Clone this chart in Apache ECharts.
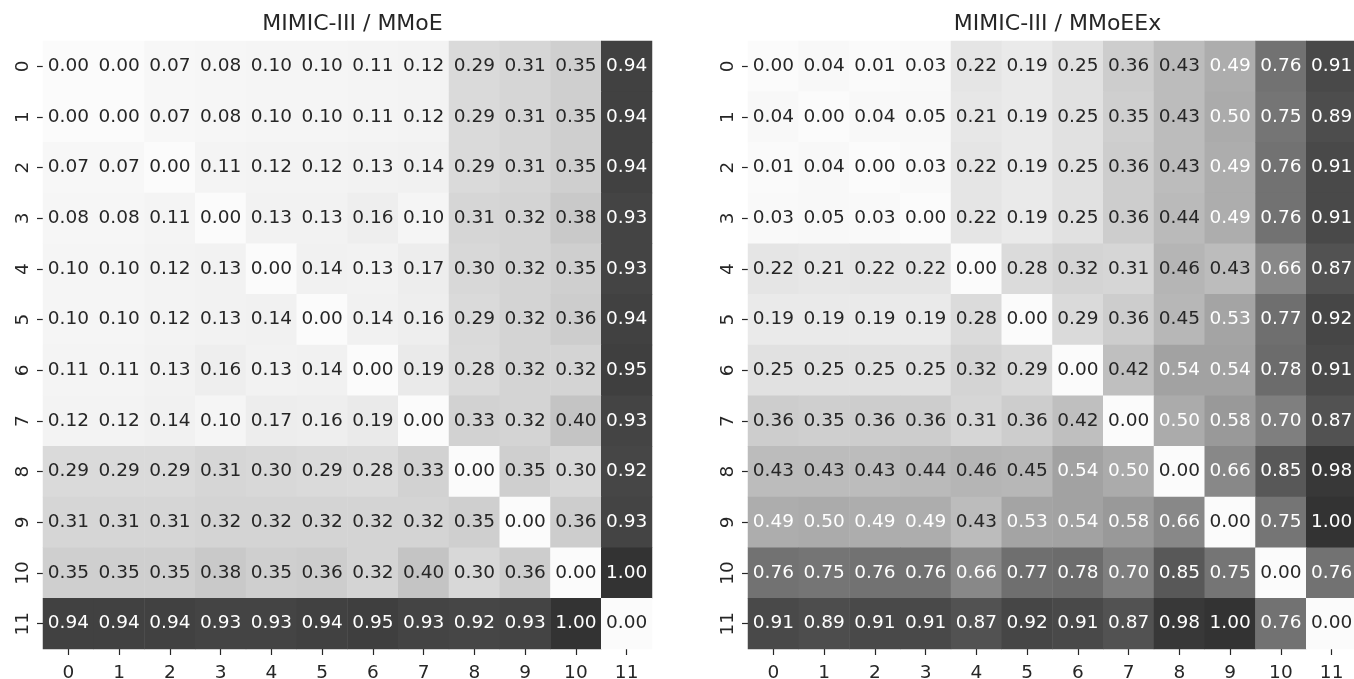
<!DOCTYPE html>
<html><head><meta charset="utf-8">
<script src="https://cdn.jsdelivr.net/npm/echarts@6/dist/echarts.min.js"></script>
<style>html,body{margin:0;padding:0;background:#fff}#c{width:1354px;height:679px}</style>
</head><body><div id="c"></div>
<script>
const categories = ['0','1','2','3','4','5','6','7','8','9','10','11'];
const titleLeft = 'MIMIC-III / MMoE';
const titleRight = 'MIMIC-III / MMoEEx';
const mmoe = [
 [0.00,0.00,0.07,0.08,0.10,0.10,0.11,0.12,0.29,0.31,0.35,0.94],
 [0.00,0.00,0.07,0.08,0.10,0.10,0.11,0.12,0.29,0.31,0.35,0.94],
 [0.07,0.07,0.00,0.11,0.12,0.12,0.13,0.14,0.29,0.31,0.35,0.94],
 [0.08,0.08,0.11,0.00,0.13,0.13,0.16,0.10,0.31,0.32,0.38,0.93],
 [0.10,0.10,0.12,0.13,0.00,0.14,0.13,0.17,0.30,0.32,0.35,0.93],
 [0.10,0.10,0.12,0.13,0.14,0.00,0.14,0.16,0.29,0.32,0.36,0.94],
 [0.11,0.11,0.13,0.16,0.13,0.14,0.00,0.19,0.28,0.32,0.32,0.95],
 [0.12,0.12,0.14,0.10,0.17,0.16,0.19,0.00,0.33,0.32,0.40,0.93],
 [0.29,0.29,0.29,0.31,0.30,0.29,0.28,0.33,0.00,0.35,0.30,0.92],
 [0.31,0.31,0.31,0.32,0.32,0.32,0.32,0.32,0.35,0.00,0.36,0.93],
 [0.35,0.35,0.35,0.38,0.35,0.36,0.32,0.40,0.30,0.36,0.00,1.00],
 [0.94,0.94,0.94,0.93,0.93,0.94,0.95,0.93,0.92,0.93,1.00,0.00]
];
const mmoeex = [
 [0.00,0.04,0.01,0.03,0.22,0.19,0.25,0.36,0.43,0.49,0.76,0.91],
 [0.04,0.00,0.04,0.05,0.21,0.19,0.25,0.35,0.43,0.50,0.75,0.89],
 [0.01,0.04,0.00,0.03,0.22,0.19,0.25,0.36,0.43,0.49,0.76,0.91],
 [0.03,0.05,0.03,0.00,0.22,0.19,0.25,0.36,0.44,0.49,0.76,0.91],
 [0.22,0.21,0.22,0.22,0.00,0.28,0.32,0.31,0.46,0.43,0.66,0.87],
 [0.19,0.19,0.19,0.19,0.28,0.00,0.29,0.36,0.45,0.53,0.77,0.92],
 [0.25,0.25,0.25,0.25,0.32,0.29,0.00,0.42,0.54,0.54,0.78,0.91],
 [0.36,0.35,0.36,0.36,0.31,0.36,0.42,0.00,0.50,0.58,0.70,0.87],
 [0.43,0.43,0.43,0.44,0.46,0.45,0.54,0.50,0.00,0.66,0.85,0.98],
 [0.49,0.50,0.49,0.49,0.43,0.53,0.54,0.58,0.66,0.00,0.75,1.00],
 [0.76,0.75,0.76,0.76,0.66,0.77,0.78,0.70,0.85,0.75,0.00,0.76],
 [0.91,0.89,0.91,0.91,0.87,0.92,0.91,0.87,0.98,1.00,0.76,0.00]
];

const FONT = 'DejaVu Sans';
const DARK = '#262626';
function toData(m){
  const out = [];
  m.forEach((row, y) => row.forEach((v, x) => {
    out.push({value:[x, y, v], label:{color: v >= 0.47 ? '#ffffff' : DARK}});
  }));
  return out;
}
const grids = [
  {left: 43, top: 41, width: 609, height: 608, outerBoundsMode: 'none', containLabel: false},
  {left: 748, top: 41, width: 609, height: 608, outerBoundsMode: 'none', containLabel: false}
];
function xAxis(i){
  return {type:'category', gridIndex:i, data:categories, position:'bottom',
    axisLine:{show:false}, splitLine:{show:false},
    axisTick:{show:true, alignWithLabel:true, length:6, lineStyle:{color:DARK, width:1.2}},
    axisLabel:{color:DARK, fontFamily:FONT, fontSize:18.5, margin:15}};
}
function yAxis(i){
  return {type:'category', gridIndex:i, data:categories, inverse:true,
    axisLine:{show:false}, splitLine:{show:false},
    axisTick:{show:true, alignWithLabel:true, length:6, lineStyle:{color:DARK, width:1.2}},
    axisLabel:{color:DARK, fontFamily:FONT, fontSize:18.5, rotate:90, margin:10}};
}
function series(i, m){
  return {type:'heatmap', xAxisIndex:i, yAxisIndex:i, data:toData(m),
    label:{show:true, fontFamily:FONT, fontSize:18.5, formatter: p => p.value[2].toFixed(2)},
    emphasis:{disabled:true}};
}
const chart = echarts.init(document.getElementById('c'), null, {renderer:'canvas'});
chart.setOption({
  animation:false,
  backgroundColor:'#ffffff',
  title:[
    {text:titleLeft, left:347.5, top:8, textAlign:'center', textStyle:{fontFamily:FONT, fontSize:22, fontWeight:'normal', color:DARK}},
    {text:titleRight, left:1052.5, top:8, textAlign:'center', textStyle:{fontFamily:FONT, fontSize:22, fontWeight:'normal', color:DARK}}
  ],
  grid: grids,
  xAxis:[xAxis(0), xAxis(1)],
  yAxis:[yAxis(0), yAxis(1)],
  visualMap:{show:false, type:'continuous', min:0, max:1, seriesIndex:[0,1], dimension:2,
    inRange:{color:['#fbfbfb','#f3f3f3','#e1e1e1','#cacaca','#ababab','#8f8f8f','#757575','#515151','#333333']}},
  series:[series(0, mmoe), series(1, mmoeex)]
});
</script></body></html>
